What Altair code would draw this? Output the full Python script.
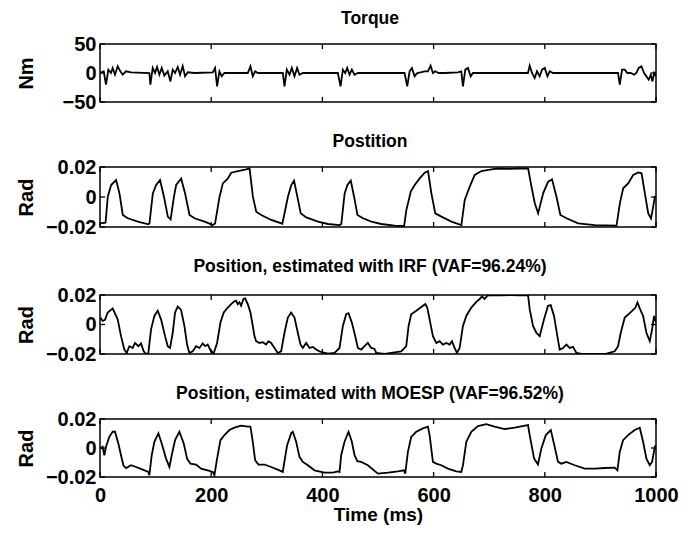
import altair as alt
import pandas as pd

FONT = "Liberation Sans"

x_ticks = [0, 200, 400, 600, 800, 1000]
torque_ticks = [-50, 0, 50]
rad_ticks = [-0.02, 0, 0.02]

torque_t = [0, 6.6, 10.8, 15, 19.8, 22.8, 27, 31.8, 36.6, 40.8, 46.8, 55.8, 88.8, 90.6, 94.8, 99, 102.6, 106.8, 111,
            115.8, 121.8, 126.6, 130.8, 135, 139.8, 144, 148.8, 153, 157.8, 169.8, 202.8, 207, 210.6, 214.8, 219, 223.8,
            235.8, 265.8, 270.6, 274.8, 279, 283.8, 328.8, 331.8, 336, 340.8, 345, 349.8, 354.6, 358.8, 364.8, 427.8,
            432.6, 436.8, 441, 444.6, 448.8, 453, 457.8, 463.8, 469.8, 547.8, 552.6, 556.8, 561, 565.8, 570.6, 576.6,
            583.8, 589.8, 594.6, 598.8, 603, 609, 619.8, 643.8, 649.8, 652.8, 657, 661.8, 666.6, 670.8, 679.8, 769.8,
            772.8, 777, 781.8, 786, 790.8, 795, 799.8, 804.8, 808.8, 814.8, 823.8, 931.8, 934.8, 939, 943.8, 948.6,
            954.6, 960.6, 964.8, 969, 973.8, 978.6, 982.8, 987, 990.6, 993.6, 996.6, 1000]
torque_v = [0, 2.9, -20.2, 5.8, 0, 8.7, -2.9, 11.6, 2.9, -2.9, 2.9, 1.2, 0, -20.2, 8.7, 0, 10.4, -2.9, 8.7,
            -4.6, 2.9, -14.5, 5.8, 0, 10.4, -2.9, 11.6, -5.8, 1.2, 0, 1.2, 8.7, -23.1, 2.9, -5.8, 0,
            0, 0, 11.6, -5.8, 2.9, 0, 0, -23.1, 5.8, -2.9, 8.7, -5.8, 8.7, -2.9, 0, 0,
            -23.1, 5.8, 0, 8.7, -2.9, 5.8, -2.9, 0, 0, 0, -23.1, 2.9, 8.7, -5.8, 0, 1.2,
            2.9, 2.9, 12.7, 0, 2.9, 0, 0, 1.2, 2.9, -23.1, 5.8, 8.7, -5.8, 0, 0, 0,
            12.7, 0, -8.7, 2.9, -5.8, 5.8, 8.7, -5.8, 2.9, 0, 0, 0, -20.2, 5.8, 5.8, 0,
            0, -2.9, 0, 8.7, 11.6, 0, -5.8, -11.6, -2.9, -14.5, 0, -5.8]

pos_t = [0, 10, 14, 20, 29, 35, 41, 50, 68, 87, 89, 95, 101, 108, 115, 122, 127, 133, 137, 146, 153, 161, 170, 188,
         203, 207, 215, 221, 230, 236, 248, 263, 269, 275, 281, 290, 308, 328, 338, 344, 349, 355, 361, 371, 392,
         410, 431, 434, 440, 445, 451, 457, 463, 473, 488, 506, 530, 547, 551, 559, 566, 575, 584, 590, 596, 603,
         614, 632, 650, 656, 665, 674, 686, 704, 716, 734, 752, 770, 776, 782, 788, 797, 806, 813, 821, 828, 839,
         860, 890, 929, 935, 941, 950, 959, 968, 974, 980, 986, 991, 995, 998, 1000]
pos_v = [-0.0176, -0.0171, 0.0002, 0.0080, 0.0113, 0.0024, -0.0120, -0.0142, -0.0164, -0.0182, -0.0176, 0.0024,
         0.0080, 0.0113, 0.0002, -0.0131, -0.0149, 0.0002, 0.0080, 0.0124, 0.0024, -0.0120, -0.0142, -0.0164,
         -0.0187, -0.0176, 0.0002, 0.0091, 0.0124, 0.0162, 0.0173, 0.0184, 0.0191, 0.0002, -0.0098, -0.0120,
         -0.0153, -0.0178, 0.0002, 0.0080, 0.0109, 0.0002, -0.0109, -0.0136, -0.0164, -0.0180, -0.0187, -0.0180,
         0.0024, 0.0080, 0.0109, 0.0002, -0.0120, -0.0142, -0.0164, -0.0180, -0.0191, -0.0193, -0.0087, 0.0036,
         0.0080, 0.0124, 0.0162, 0.0173, 0.0024, -0.0109, -0.0131, -0.0164, -0.0187, -0.0020, 0.0069, 0.0147,
         0.0173, 0.0184, 0.0190, 0.0188, 0.0190, 0.0191, 0.0069, -0.0042, -0.0109, 0.0024, 0.0102, 0.0118,
         0.0002, -0.0120, -0.0142, -0.0176, -0.0187, -0.0191, -0.0042, 0.0058, 0.0091, 0.0147, 0.0164, 0.0158,
         0.0024, -0.0109, -0.0142, -0.0064, 0.0002, 0.0005]

irf_t = [0.6, 4.8, 9, 13.8, 19.8, 22.8, 31.8, 37.8, 43.8, 48, 52.8, 58.8, 63, 69, 73.8, 78.6, 82.8, 87, 91.8, 97.8,
         103.8, 109.8, 117, 121.8, 126, 130.8, 135, 139.8, 145.8, 151.8, 156.6, 160.8, 166.8, 172.8, 178.8, 184.8,
         189, 193.8, 199.8, 204.6, 210.6, 216.6, 222.6, 229.8, 235.8, 240.6, 244.8, 247.8, 250.8, 253.8, 258, 261,
         265.8, 270.6, 274.8, 277.8, 280.8, 286.8, 292.8, 298.8, 303, 307.8, 313.8, 319.8, 325.8, 331.8, 337.8,
         343.8, 349.8, 355.8, 360.6, 364.8, 370.8, 376.8, 382.8, 388.8, 394.8, 400.8, 409.8, 421.8, 430.8, 436.8,
         442.8, 447, 453, 459, 463.8, 469.8, 475.8, 481.8, 487.8, 493.8, 496.8, 511.8, 529.8, 541.8, 550.8, 555,
         559.8, 568.8, 576.6, 580.8, 585, 588.6, 592.8, 598.8, 604.8, 610.8, 616.8, 622.8, 628.8, 633, 637.8, 642,
         646.8, 652.8, 658.8, 667.8, 676.8, 682.8, 687, 691.8, 696.6, 703.8, 720, 740, 755, 769.8, 772.8, 778.8,
         784.8, 790.8, 798.6, 805.8, 810.6, 816.6, 822.6, 826.8, 832.8, 838.8, 844.8, 850.8, 856.8, 865.8, 889.8,
         910.8, 925.8, 931.8, 936.6, 943.8, 952.8, 958.8, 963, 966.6, 970.8, 976.8, 982.8, 988.8, 993, 996.6, 1000]
irf_v = [0.0047, 0.0024, 0.0031, 0.0081, 0.0099, 0.0109, 0.0035, -0.0079, -0.0170, -0.0193, -0.0147, -0.0159,
         -0.0125, -0.0147, -0.0129, -0.0182, -0.0200, -0.0193, -0.0033, 0.0058, 0.0093, 0.0035, -0.0079, -0.0147,
         -0.0159, -0.0056, 0.0081, 0.0122, 0.0099, -0.0010, -0.0136, -0.0193, -0.0182, -0.0147, -0.0159, -0.0129,
         -0.0147, -0.0136, -0.0182, -0.0193, -0.0125, 0.0013, 0.0081, 0.0115, 0.0138, 0.0154, 0.0161, 0.0138,
         0.0150, 0.0127, 0.0173, 0.0177, 0.0138, 0.0081, -0.0010, -0.0079, -0.0113, -0.0125, -0.0120, -0.0136,
         -0.0113, -0.0125, -0.0159, -0.0193, -0.0182, -0.0056, 0.0047, 0.0081, 0.0047, -0.0056, -0.0136, -0.0159,
         -0.0125, -0.0159, -0.0152, -0.0170, -0.0182, -0.0189, -0.0198, -0.0193, -0.0159, -0.0010, 0.0070, 0.0077,
         0.0013, -0.0079, -0.0159, -0.0170, -0.0147, -0.0125, -0.0159, -0.0166, -0.0193, -0.0200, -0.0189,
         -0.0182, -0.0147, -0.0010, 0.0070, 0.0093, 0.0115, 0.0127, 0.0138, 0.0115, 0.0035, -0.0079, -0.0125,
         -0.0113, -0.0136, -0.0125, -0.0136, -0.0113, -0.0159, -0.0193, -0.0159, -0.0010, 0.0058, 0.0115, 0.0154,
         0.0173, 0.0191, 0.0173, 0.0195, 0.0200, 0.0197, 0.0200, 0.0198, 0.0200, 0.0104, -0.0010, -0.0056,
         -0.0079, 0.0035, 0.0127, 0.0131, 0.0058, -0.0079, -0.0170, -0.0159, -0.0136, -0.0159, -0.0152, -0.0193,
         -0.0200, -0.0200, -0.0198, -0.0182, -0.0147, -0.0056, 0.0047, 0.0077, 0.0099, 0.0115, 0.0150, 0.0109,
         0.0058, -0.0056, -0.0113, -0.0033, 0.0058, 0.0013]

moesp_t = [0.6, 4.8, 7.8, 10.8, 16.8, 22.8, 27, 33, 37.8, 42, 46.8, 55.8, 64.8, 76.8, 87, 88.8, 93, 97.8, 105, 111,
           118.8, 124.8, 129, 135, 142.8, 150.6, 156.6, 162.6, 172.8, 181.8, 193.8, 202.8, 205.8, 210.6, 216.6,
           223.8, 232.8, 241.8, 253.8, 265.8, 270.6, 274.8, 279, 285, 295.8, 307.8, 322.8, 328.8, 330.6, 336.6,
           343.8, 346.8, 352.8, 358.8, 364.8, 373.8, 385.8, 403.8, 418.8, 427.8, 430.8, 433.8, 439.8, 447, 453,
           457.8, 462.8, 469.8, 481.8, 499.8, 517.8, 535.8, 546.6, 549, 553.8, 559.8, 568.8, 580.8, 589.8, 592.8,
           598.8, 604.8, 613.8, 625.8, 640.8, 649.8, 652.8, 658.8, 667.8, 679.8, 694.8, 709.8, 727.8, 745.8, 769.8,
           772.8, 780.8, 787.8, 793.8, 801.8, 810.8, 817.8, 823.8, 829.8, 838.8, 853.8, 871.8, 889.8, 907.8, 925.8,
           930.6, 934.8, 940.8, 949.8, 961.8, 970.8, 976.8, 982.8, 988.8, 993, 997.8, 1000]
moesp_v = [-0.0003, 0.0008, -0.0050, 0.0008, 0.0077, 0.0112, 0.0112, 0.0031, -0.0050, -0.0119, -0.0138, -0.0119,
           -0.0131, -0.0149, -0.0165, -0.0188, -0.0050, 0.0043, 0.0101, 0.0031, -0.0073, -0.0131, -0.0050, 0.0054,
           0.0112, 0.0031, -0.0073, -0.0108, -0.0114, -0.0142, -0.0154, -0.0165, -0.0188, -0.0073, 0.0054, 0.0089,
           0.0124, 0.0140, 0.0154, 0.0147, 0.0147, 0.0043, -0.0084, -0.0114, -0.0114, -0.0131, -0.0154, -0.0165,
           -0.0119, 0.0020, 0.0101, 0.0112, 0.0043, -0.0061, -0.0096, -0.0119, -0.0154, -0.0170, -0.0170, -0.0161,
           -0.0165, -0.0050, 0.0043, 0.0112, 0.0043, -0.0050, -0.0091, -0.0096, -0.0119, -0.0177, -0.0170, -0.0161,
           -0.0154, -0.0177, -0.0027, 0.0077, 0.0112, 0.0135, 0.0147, 0.0089, -0.0096, -0.0108, -0.0119, -0.0142,
           -0.0161, -0.0165, -0.0119, 0.0043, 0.0112, 0.0151, 0.0165, 0.0147, 0.0131, 0.0140, 0.0158, 0.0089,
           -0.0073, -0.0114, -0.0003, 0.0089, 0.0124, 0.0008, -0.0096, -0.0108, -0.0096, -0.0119, -0.0142, -0.0142,
           -0.0138, -0.0135, -0.0154, -0.0027, 0.0054, 0.0089, 0.0124, 0.0140, 0.0043, -0.0073, -0.0119, -0.0096,
           0.0008, 0.0020]

W = 556
TICK = 5


def panel(t, v, ydom, yticks, title, ytitle, show_x, title_pad, H, toff):
    xs = alt.Scale(domain=[0, 1000], nice=False, zero=False)
    ys = alt.Scale(domain=ydom, nice=False, zero=False)
    if show_x:
        xaxis = alt.Axis(values=x_ticks, format="d", ticks=False, domain=False, grid=False,
                         title="Time (ms)", labelFont=FONT, labelFontSize=20, labelFontWeight="bold",
                         labelColor="black", labelPadding=8, titleFont=FONT, titleFontSize=19,
                         titleFontWeight="bold", titleColor="black", titlePadding=0, labelFlush=False)
    else:
        xaxis = None
    yaxis = alt.Axis(values=yticks, format="~g", ticks=False, domain=False, grid=False, title=ytitle,
                     labelFont=FONT, labelFontSize=20, labelFontWeight="bold", labelColor="black",
                     labelPadding=4, titleFont=FONT, titleFontSize=20, titleFontWeight="bold",
                     titleColor="black", titlePadding=title_pad, labelFlush=False)

    def X():
        return alt.X("t:Q", scale=xs, axis=xaxis)

    def Y():
        return alt.Y("v:Q", scale=ys, axis=yaxis)

    df = pd.DataFrame({"t": t, "v": v})
    line = alt.Chart(df).mark_line(color="black", strokeWidth=1.8, clip=True).encode(x=X(), y=Y())
    xt = pd.DataFrame({"t": x_ticks})
    yt = pd.DataFrame({"v": yticks})
    tk = dict(color="black", strokeWidth=1.3)
    top = alt.Chart(xt).mark_rule(**tk).encode(x=X(), y=alt.value(0), y2=alt.value(TICK))
    bot = alt.Chart(xt).mark_rule(**tk).encode(x=X(), y=alt.value(H), y2=alt.value(H - TICK))
    lef = alt.Chart(yt).mark_rule(**tk).encode(y=Y(), x=alt.value(0), x2=alt.value(TICK))
    rig = alt.Chart(yt).mark_rule(**tk).encode(y=Y(), x=alt.value(W), x2=alt.value(W - TICK))
    return alt.layer(line, top, bot, lef, rig).properties(
        width=W, height=H,
        title=alt.TitleParams(text=title, font=FONT, fontSize=17.5, fontWeight="bold", color="black",
                              anchor="middle", frame="group", dx=-8, offset=toff),
    )


p1 = panel(torque_t, torque_v, [-50, 50], torque_ticks, "Torque", "Nm", False, 26, 58, 7)
p2 = panel(pos_t, pos_v, [-0.02, 0.02], rad_ticks, "Postition", "Rad", False, 9, 60, 7)
p3 = panel(irf_t, irf_v, [-0.02, 0.02], rad_ticks, "Position, estimated with IRF (VAF=96.24%)", "Rad", False, 9, 59, 10)
p4 = panel(moesp_t, moesp_v, [-0.02, 0.02], rad_ticks, "Position, estimated with MOESP (VAF=96.52%)", "Rad", True, 9, 58, 7)

chart = alt.vconcat(p1, p2, p3, p4, spacing=18).properties(
    padding={"left": 7, "top": 0, "right": 5, "bottom": 5}
).configure(background="white").configure_view(stroke="black", strokeWidth=1.5)

chart.save("out.html", embed_options={"renderer": "svg", "actions": False})
